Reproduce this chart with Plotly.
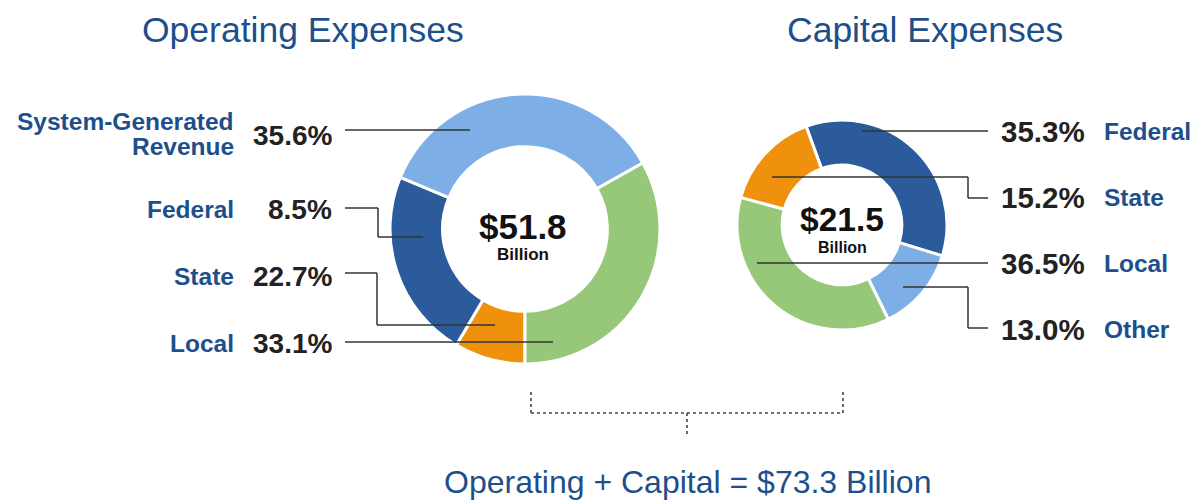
import plotly.graph_objects as go

W, H = 1195, 502

# ---------------- data ----------------
op_labels = ["System-Generated Revenue", "Federal", "State", "Local"]
op_values = [35.6, 8.5, 22.7, 33.1]
op_total = "$51.8"

cap_labels = ["Federal", "State", "Local", "Other"]
cap_values = [35.3, 15.2, 36.5, 13.0]
cap_total = "$21.5"

grand_total_text = "Operating + Capital = $73.3 Billion"

# ---------------- styles ----------------
LIGHT = "#7eaee6"
DARK = "#2b5b9b"
GREEN = "#97c879"
ORANGE = "#f0910e"
TXT_BLUE = "#1c4f8b"
TXT_DARK = "#222222"
LINE = "#333333"
FONT = "Liberation Sans, Arial, sans-serif"

op_colors = {"System-Generated Revenue": LIGHT, "Federal": ORANGE, "State": DARK, "Local": GREEN}
cap_colors = {"Federal": DARK, "State": ORANGE, "Local": GREEN, "Other": LIGHT}

# slice order (clockwise) as drawn
op_order = ["Federal", "State", "System-Generated Revenue", "Local"]
cap_order = ["Federal", "Other", "Local", "State"]


def px(x):
    return x / W


def py(y):
    return 1 - y / H


def dom(cx, cy, r):
    return dict(x=[px(cx - r), px(cx + r)], y=[py(cy + r), py(cy - r)])


fig = go.Figure()

op_map = dict(zip(op_labels, op_values))
fig.add_trace(go.Pie(
    labels=op_order,
    values=[op_map[k] for k in op_order],
    marker=dict(colors=[op_colors[k] for k in op_order], line=dict(color="white", width=3)),
    hole=0.61, sort=False, direction="clockwise", rotation=180,
    textinfo="none", hoverinfo="label+percent", showlegend=False,
    domain=dom(525, 229, 135),
))

cap_map = dict(zip(cap_labels, cap_values))
fig.add_trace(go.Pie(
    labels=cap_order,
    values=[cap_map[k] for k in cap_order],
    marker=dict(colors=[cap_colors[k] for k in cap_order], line=dict(color="white", width=3)),
    hole=0.57, sort=False, direction="clockwise", rotation=-20,
    textinfo="none", hoverinfo="label+percent", showlegend=False,
    domain=dom(842, 225, 105),
))

ann = []


def text(x, y, s, size, color, xanchor="center", bold=False):
    ann.append(dict(
        x=px(x), y=py(y), xref="paper", yref="paper", showarrow=False,
        text=f"<b>{s}</b>" if bold else s, xanchor=xanchor, yanchor="middle",
        font=dict(family=FONT, size=size, color=color),
    ))


# titles
text(303, 30, "Operating Expenses", 35.5, TXT_BLUE)
text(925, 30, "Capital Expenses", 35.5, TXT_BLUE)

# center totals
text(523, 226, op_total, 35, "#111111", bold=True)
text(523, 254, "Billion", 17, "#111111", bold=True)
text(842, 219, cap_total, 33.5, "#111111", bold=True)
text(842, 247, "Billion", 16, "#111111", bold=True)

# left labels (name, percent)
left_label_y = {"System-Generated Revenue": 135, "Federal": 209, "State": 276, "Local": 343}
for name in op_labels:
    y = left_label_y[name]
    if name == "System-Generated Revenue":
        text(236, 121, "System-Generated", 24.5, TXT_BLUE, xanchor="right", bold=True)
        text(236, 147, "Revenue", 24.5, TXT_BLUE, xanchor="right", bold=True)
    else:
        text(236, y, name, 24.5, TXT_BLUE, xanchor="right", bold=True)
    text(334, y, f"{op_map[name]:.1f}%", 28, TXT_DARK, xanchor="right", bold=True)

# right labels
right_label_y = {"Federal": 131, "State": 197, "Local": 263, "Other": 329}
for name in cap_labels:
    y = right_label_y[name]
    text(999, y, f"{cap_map[name]:.1f}%", 29.5, TXT_DARK, xanchor="left", bold=True)
    text(1102, y, name, 24.5, TXT_BLUE, xanchor="left", bold=True)

text(687, 482, grand_total_text, 32, TXT_BLUE)

shapes = []


def poly(points, dash="solid", width=1.5, color=LINE):
    for (x0, y0), (x1, y1) in zip(points[:-1], points[1:]):
        shapes.append(dict(type="line", xref="paper", yref="paper",
                           x0=px(x0), y0=py(y0), x1=px(x1), y1=py(y1),
                           line=dict(color=color, width=width, dash=dash)))


# left leader lines
poly([(345, 130), (470, 130)])
poly([(345, 208), (378, 208), (378, 237), (423, 237)])
poly([(345, 273), (377, 273), (377, 325), (495, 325)])
poly([(345, 342), (553, 342)])

# right leader lines
poly([(862, 131), (988, 131)])
poly([(772, 177), (968, 177), (968, 198), (988, 198)])
poly([(757, 263), (988, 263)])
poly([(903, 287), (968, 287), (968, 328), (988, 328)])

# dotted bracket
poly([(531, 392), (531, 413), (843, 413), (843, 392)], dash="dot", width=1.6, color="#444444")
poly([(687, 413), (687, 436)], dash="dot", width=1.6, color="#444444")

fig.update_layout(
    width=W, height=H,
    margin=dict(l=0, r=0, t=0, b=0),
    paper_bgcolor="white", plot_bgcolor="white",
    annotations=ann, shapes=shapes,
    showlegend=False,
)

fig.write_html(
    "out.html",
    config={"displayModeBar": False},
    post_script="document.body.style.margin='0';document.body.style.overflow='hidden';",
)
